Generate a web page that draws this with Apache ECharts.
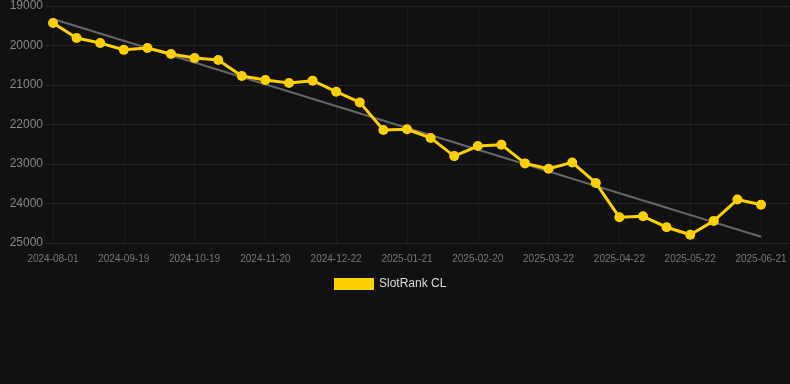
<!DOCTYPE html>
<html><head><meta charset="utf-8">
<script src="https://cdn.jsdelivr.net/npm/echarts@6/dist/echarts.min.js"></script>
<style>html,body{margin:0;padding:0;background:#111111;}#c{width:790px;height:384px;}</style>
</head><body><div id="c"></div>
<script>
var categories = ['2024-08-01','2024-08-17','2024-09-03','2024-09-19','2024-09-29','2024-10-09','2024-10-19','2024-10-30','2024-11-09','2024-11-20','2024-12-01','2024-12-11','2024-12-22','2025-01-01','2025-01-11','2025-01-21','2025-01-31','2025-02-10','2025-02-20','2025-03-02','2025-03-12','2025-03-22','2025-04-01','2025-04-11','2025-04-22','2025-05-02','2025-05-12','2025-05-22','2025-06-01','2025-06-11','2025-06-21'];
var rankValues = [19430,19810,19937,20110,20063,20215,20316,20367,20772,20873,20949,20890,21170,21440,22140,22120,22340,22800,22545,22510,22985,23120,22960,23480,24350,24325,24600,24790,24440,23900,24030];
var trendValues = [19330,null,null,null,null,null,null,null,null,null,null,null,null,null,null,null,null,null,null,null,null,null,null,null,null,null,null,null,null,null,24840];
var yTicks = [19000,20000,21000,22000,23000,24000,25000];

var yMin = yTicks[0], yMax = yTicks[yTicks.length-1];
var chart = echarts.init(document.getElementById('c'), null, {renderer:'canvas'});
chart.setOption({
  backgroundColor: '#111111',
  animation: false,
  grid: [
    {left: 45, right: 0, top: 6, bottom: 141},
    {left: 53, right: 29, top: 6, bottom: 141}
  ],
  legend: {
    data: ['SlotRank CL'], top: 273, left: 329,
    itemWidth: 40, itemHeight: 12, itemGap: 10,
    textStyle: {color: '#dddddd', fontSize: 12, fontFamily: 'Liberation Sans, Arial'},
    icon: 'rect'
  },
  xAxis: [
    {gridIndex: 0, type: 'value', min: 0, max: 1, show: false},
    {
      gridIndex: 1, type: 'category', data: categories, boundaryGap: false,
      axisLine: {show: false},
      axisTick: {show: false},
      axisLabel: {interval: 2, color: '#777777', fontSize: 10, margin: 11, fontFamily: 'Liberation Sans, Arial'},
      splitLine: {show: true, interval: 2, lineStyle: {color: '#1d1d1d'}}
    }
  ],
  yAxis: [
    {
      gridIndex: 0, type: 'value', inverse: true, min: yMin, max: yMax, interval: 1000,
      axisLine: {show: false}, axisTick: {show: false},
      axisLabel: {color: '#888888', fontSize: 12, margin: 2, fontFamily: 'Liberation Sans, Arial',
        formatter: function (v) { return String(v); }},
      splitLine: {show: true, lineStyle: {color: '#252525'}}
    },
    {
      gridIndex: 1, type: 'value', inverse: true, min: yMin, max: yMax, interval: 1000,
      show: false, splitLine: {show: false}
    }
  ],
  series: [
    {
      name: 'Trend', type: 'line', xAxisIndex: 1, yAxisIndex: 1,
      data: trendValues, connectNulls: true,
      showSymbol: false, symbol: 'none', silent: true,
      lineStyle: {color: '#666666', width: 2}, z: 1
    },
    {
      name: 'SlotRank CL', type: 'line', xAxisIndex: 1, yAxisIndex: 1, data: rankValues,
      symbol: 'circle', symbolSize: 10, showAllSymbol: true,
      itemStyle: {color: '#FFD000'},
      lineStyle: {color: '#FFD000', width: 3}, z: 2
    }
  ]
});
</script></body></html>
